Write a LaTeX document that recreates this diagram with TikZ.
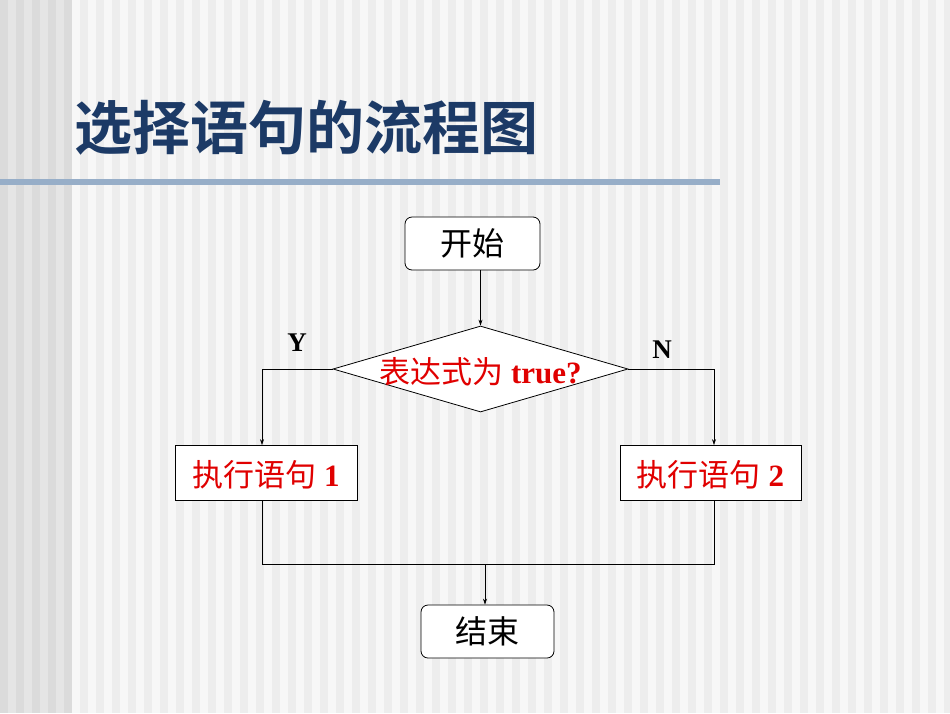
\documentclass[tikz,border=0pt]{standalone}
\usepackage{fontspec}
\setmainfont{Liberation Serif}
\newfontfamily\cjk{Noto Sans CJK SC}
\newfontfamily\cjkb{Noto Sans CJK SC Bold}
\usetikzlibrary{arrows.meta,shapes.geometric}
\definecolor{titleblue}{HTML}{1C3A66}
\definecolor{barblue}{HTML}{97AEC8}
\definecolor{myred}{HTML}{E00000}
\begin{document}
\begin{tikzpicture}[x=1pt,y=-1pt,
  box/.style={draw,thick,fill=white,minimum width=#1,minimum height=55,inner sep=0},
  rbox/.style={box=#1,rounded corners=7},
  arr/.style={-{Stealth[length=6pt,width=4pt]}},
  ln/.style={semithick},
  redt/.style={text=myred,font=\fontsize{31}{36}\selectfont}]
\useasboundingbox (0,0) rectangle (950,713);
\fill[white] (0,0) rectangle (950,713);
\foreach \i in {0,...,118}{
  \pgfmathsetmacro{\g}{\i<9 ? (mod(\i,2)==0 ? 86 : 90) : (mod(\i,2)==0 ? 93 : 97)}
  \fill[black!\the\numexpr100-\fpeval{round(\g)}\relax] (\i*8,0) rectangle (\i*8+8,713);
}
\node[anchor=west,text=titleblue,font=\cjkb\fontsize{58}{64}\selectfont] (title) at (71,128) {选择语句的流程图};
\fill[barblue] (0,179) rectangle (720,185);
\node[rbox=135,minimum height=53] (start) at (472.5,243.5) {\cjk\fontsize{32}{36}\selectfont 开始};
\node[draw,thick,fill=white,diamond,aspect=3.43,minimum width=295,minimum height=86,inner sep=0] (cond) at (480.5,369) {};
\node[redt] at (480.5,372) {{\cjk 表达式为} \textbf{true?}};
\node[box=182] (s1) at (266,473) {};
\node[redt] at (266,475) {{\cjk 执行语句} \textbf{1}};
\node[box=181] (s2) at (710.5,473) {};
\node[redt] at (710.5,475) {{\cjk 执行语句} \textbf{2}};
\node[rbox=133,minimum height=53] (end) at (487.5,631.5) {\cjk\fontsize{32}{36}\selectfont 结束};
\node[font=\bfseries\fontsize{27}{30}\selectfont] (Y) at (297,343) {Y};
\node[font=\bfseries\fontsize{27}{30}\selectfont] (N) at (662,350) {N};
\coordinate (j) at (485,564);
\draw[ln,arr] (start.south -| cond.north) -- (cond.north);
\draw[ln,arr] (cond.west) -| (262,0 |- s1.north);
\draw[ln,arr] (cond.east) -| (714,0 |- s2.north);
\draw[ln] (262,0 |- s1.south) |- (j) -| (714,0 |- s2.south);
\draw[ln,arr] (j) -- (j |- end.north);
\end{tikzpicture}
\end{document}
